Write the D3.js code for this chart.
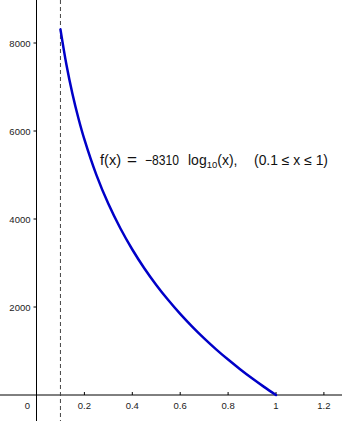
<!DOCTYPE html>
<html><head><meta charset="utf-8">
<script src="https://cdn.jsdelivr.net/npm/d3@7"></script>
<style>body{margin:0;background:#fff}svg{display:block}text{white-space:pre}</style>
</head><body>
<svg id="c" width="342" height="421"></svg>
<script>
const xs = [0.10,0.125,0.15,0.175,0.20,0.25,0.30,0.35,0.40,0.45,0.50,0.55,0.60,0.65,0.70,0.75,0.80,0.85,0.90,0.95,1.00];
const ys = [8310,7505,6847,6291,5809,5003,4345,3789,3307,2882,2502,2158,1844,1555,1287,1038,805,587,380,185,0];
const xTicks = [0.2,0.4,0.6,0.8,1,1.2];
const xTickLabels = ["0.2","0.4","0.6","0.8","1","1.2"];
const yTicks = [2000,4000,6000,8000];
const yTickLabels = ["2000","4000","6000","8000"];
const asymptoteX = 0.1;

const W = 342, H = 421;
const x0 = 36.5, xUnit = 239.5, y0 = 395, yUnit = 0.044;
const x = d3.scaleLinear().domain([-x0/xUnit, (W-x0)/xUnit]).range([0, W]);
const y = d3.scaleLinear().domain([-(H-y0)/yUnit, y0/yUnit]).range([H, 0]);

const svg = d3.select("#c");
const font = "'Liberation Sans', Arial, sans-serif";

// axes lines
svg.append("line").attr("x1",0).attr("x2",W).attr("y1",y(0)).attr("y2",y(0)).attr("stroke","#000").attr("stroke-width",1);
svg.append("line").attr("x1",x(0)).attr("x2",x(0)).attr("y1",0).attr("y2",H).attr("stroke","#000").attr("stroke-width",1);

// x ticks
const gx = svg.append("g");
xTicks.forEach((t,i)=>{
  gx.append("line").attr("x1",x(t)).attr("x2",x(t)).attr("y1",y(0)).attr("y2",y(0)-3).attr("stroke","#000");
  gx.append("text").attr("x",x(t)).attr("y",y(0)+14).attr("text-anchor","middle")
    .attr("font-family",font).attr("font-size",9.5).attr("fill","#222").text(xTickLabels[i]);
});
svg.append("text").attr("x",x(0)-9).attr("y",y(0)+14).attr("text-anchor","middle")
  .attr("font-family",font).attr("font-size",9.5).attr("fill","#222").text("0");

// y ticks
yTicks.forEach((t,i)=>{
  svg.append("line").attr("x1",x(0)-3).attr("x2",x(0)).attr("y1",y(t)).attr("y2",y(t)).attr("stroke","#000");
  svg.append("text").attr("x",x(0)-6).attr("y",y(t)+3.5).attr("text-anchor","end")
    .attr("font-family",font).attr("font-size",9.5).attr("fill","#222").text(yTickLabels[i]);
});

// dashed asymptote
svg.append("line").attr("x1",x(asymptoteX)).attr("x2",x(asymptoteX)).attr("y1",0).attr("y2",H)
  .attr("stroke","#444").attr("stroke-width",1).attr("stroke-dasharray","4,3");

// curve
const pts = xs.map((v,i)=>[v,ys[i]]);
svg.append("path").datum(pts)
  .attr("d", d3.line().x(d=>x(d[0])).y(d=>y(d[1])).curve(d3.curveCatmullRom))
  .attr("fill","none").attr("stroke","#0000c8").attr("stroke-width",2.5).attr("stroke-linecap","round");

// formula label
const lab = svg.append("g").attr("font-family",font).attr("font-size",14).attr("fill","#111");
const by = 165;
lab.append("text").attr("x",100).attr("y",by).attr("textLength",21).attr("lengthAdjust","spacingAndGlyphs").text("f(x)");
lab.append("text").attr("x",127).attr("y",by).attr("textLength",10).attr("lengthAdjust","spacingAndGlyphs").text("=");
lab.append("text").attr("x",145).attr("y",by).attr("textLength",34).attr("lengthAdjust","spacingAndGlyphs").text("\u22128310");
const lg = lab.append("text").attr("x",188).attr("y",by);
lg.append("tspan").text("log");
lg.append("tspan").attr("font-size",9.5).attr("dy",3).text("10");
lg.append("tspan").attr("dy",-3).text("(x),");
lab.append("text").attr("x",254).attr("y",by).attr("textLength",74).attr("lengthAdjust","spacingAndGlyphs").text("(0.1 \u2264 x \u2264 1)");
</script>
</body></html>
